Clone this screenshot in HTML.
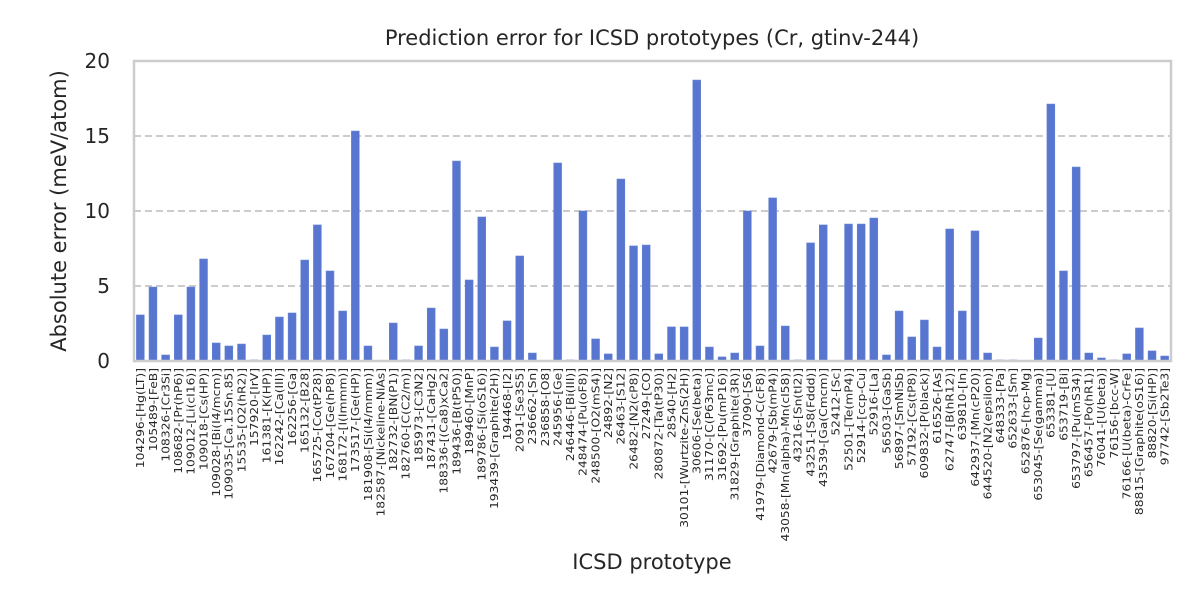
<!DOCTYPE html>
<html><head><meta charset="utf-8">
<style>
html,body{margin:0;padding:0;background:#fff;}
svg{display:block;font-family:"Liberation Sans","DejaVu Sans",sans-serif;}
</style></head>
<body>
<svg id="chart" width="1200" height="600" viewBox="0 0 1200 600" xmlns="http://www.w3.org/2000/svg">
<rect width="1200" height="600" fill="#fff"/>
<text x="652" y="45" font-size="21" fill="#262626" text-anchor="middle" font-family="DejaVu Sans, sans-serif">Prediction error for ICSD prototypes (Cr, gtinv-244)</text>
<g id="grid"></g>
<g id="bars"></g>
<g id="yticks"></g>
<g id="xticks"></g>
<rect x="134" y="61" width="1037" height="300" fill="none" stroke="#cccccc" stroke-width="2.5"/>
<text transform="translate(66,211) rotate(-90)" font-size="21" fill="#262626" text-anchor="middle" font-family="DejaVu Sans, sans-serif">Absolute error (meV/atom)</text>
<text x="652" y="569" font-size="21" fill="#262626" text-anchor="middle" font-family="DejaVu Sans, sans-serif">ICSD prototype</text>
</svg>
<script>
const categories = ["104296-[Hg(LT)]","105489-[FeB]","108326-[Cr3Si]","108682-[Pr(hP6)]","109012-[Li(cI16)]","109018-[Cs(HP)]","109028-[Bi(I4/mcm)]","109035-[Ca.15Sn.85]","15535-[O2(hR2)]","157920-[IrV]","161381-[K(HP)]","162242-[Ca(III)]","162256-[Ga]","165132-[B28]","165725-[Co(tP28)]","167204-[Ge(hP8)]","168172-[I(Immm)]","173517-[Ge(HP)]","181908-[Si(I4/mmm)]","182587-[Nickeline-NiAs]","182732-[BN(P1)]","182760-[C(C2/m)]","185973-[C3N2]","187431-[CaHg2]","188336-[(Ca8)xCa2]","189436-[B(tP50)]","189460-[MnP]","189786-[Si(oS16)]","193439-[Graphite(2H)]","194468-[I2]","2091-[Se3S5]","236662-[Sn]","236858-[O8]","245956-[Ge]","246446-[Bi(III)]","248474-[Pu(oF8)]","248500-[O2(mS4)]","24892-[N2]","26463-[S12]","26482-[N2(cP8)]","27249-[CO]","280872-[Ta(tP30)]","28540-[H2]","30101-[Wurtzite-ZnS(2H)]","30606-[Se(beta)]","31170-[C(P63mc)]","31692-[Pu(mP16)]","31829-[Graphite(3R)]","37090-[S6]","41979-[Diamond-C(cF8)]","42679-[Sb(mP4)]","43058-[Mn(alpha)-Mn(cI58)]","43216-[Sn(tI2)]","43251-[S8(Fddd)]","43539-[Ga(Cmcm)]","52412-[Sc]","52501-[Te(mP4)]","52914-[ccp-Cu]","52916-[La]","56503-[GaSb]","56897-[SmNiSb]","57192-[Cs(tP8)]","609832-[P(black)]","616526-[As]","62747-[B(hR12)]","639810-[In]","642937-[Mn(cP20)]","644520-[N2(epsilon)]","648333-[Pa]","652633-[Sm]","652876-[hcp-Mg]","653045-[Se(gamma)]","653381-[U]","653719-[Bi]","653797-[Pu(mS34)]","656457-[Po(hR1)]","76041-[U(beta)]","76156-[bcc-W]","76166-[U(beta)-CrFe]","88815-[Graphite(oS16)]","88820-[Si(HP)]","97742-[Sb2Te3]"];
const values = [3.07,4.93,0.4,3.07,4.93,6.8,1.2,1.0,1.13,0.07,1.73,2.93,3.2,6.73,9.07,6.0,3.33,15.33,1.0,0,2.53,0.07,1.0,3.53,2.13,13.33,5.4,9.6,0.93,2.67,7.0,0.53,0,13.2,0.07,10.0,1.47,0.47,12.13,7.67,7.73,0.47,2.27,2.27,18.73,0.93,0.27,0.53,10.0,1.0,10.87,2.33,0.07,7.87,9.07,0,9.13,9.13,9.53,0.4,3.33,1.6,2.73,0.93,8.8,3.33,8.67,0.53,0.07,0.07,0,1.53,17.13,6.0,12.93,0.53,0.2,0.07,0.47,2.2,0.67,0.33];
const yTicks = [0,5,10,15,20];
const gridTicks = [5,10,15];

const NS = "http://www.w3.org/2000/svg";
const X0 = 134, X1 = 1171, Y0 = 361, Y1 = 61, YMAX = 20;
const step = (X1 - X0) / categories.length;
const xc = i => X0 + (i + 0.5) * step;
const y = v => Y0 - (v / YMAX) * (Y0 - Y1);
function mk(tag, attrs, parent){ const e = document.createElementNS(NS, tag); for (const k in attrs) e.setAttribute(k, attrs[k]); parent.appendChild(e); return e; }

const grid = document.getElementById('grid');
gridTicks.forEach(t => {
  const l = mk('line', {x1:X0, x2:X1, y1:y(t), y2:y(t), stroke:'#cccccc', 'stroke-width':2, 'stroke-dasharray':'7,4'}, grid);
  
  
});

const yt = document.getElementById('yticks');
yTicks.forEach(t => {
  const tx = mk('text', {x:110, y:y(t)+7, 'font-size':20, fill:'#262626', 'text-anchor':'end', 'font-family':'DejaVu Sans, sans-serif'}, yt);
  tx.textContent = t;
  
  
});

const bars = document.getElementById('bars');
const xt = document.getElementById('xticks');
const bw = step * 0.62;
categories.forEach((c, i) => {
  const v = values[i];
  const r = mk('rect', {x:xc(i)-bw/2, y:y(v), width:bw, height:Y0-y(v), fill:'#5875cf', stroke:'#6482d6', 'stroke-width':0.6}, bars);
  
  
  const t = mk('text', {transform:'translate(' + (xc(i)+3.8) + ',368) rotate(-90) scale(1.23,1.05)', 'font-size':10, fill:'#262626', 'text-anchor':'end', 'font-family':'DejaVu Sans, sans-serif'}, xt);
  t.textContent = c;
  
  
});
</script>
</body></html>
